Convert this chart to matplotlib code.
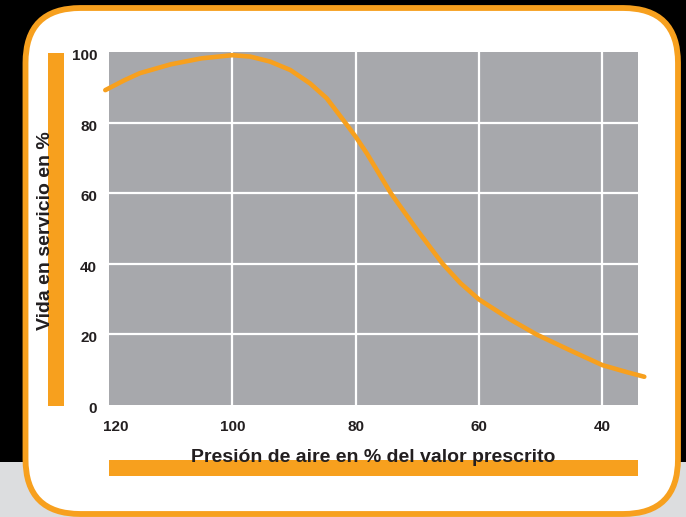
import matplotlib
matplotlib.use("Agg")
import matplotlib.pyplot as plt
import matplotlib.transforms as mtransforms
from matplotlib.patches import FancyBboxPatch, Rectangle

# tyre service life vs. inflation pressure
presion = [120.6, 117.5, 115, 110, 105, 100, 97.1, 93.9, 90.6, 87.4, 84.7, 82, 80, 78.2,
           74.3, 70, 65.9, 63, 60, 55, 50.7, 45, 40, 36, 33.2]
vida = [89.2, 92.0, 94.0, 96.5, 98.2, 99.1, 98.7, 97.3, 94.9, 91.1, 86.9, 80.7, 76.0, 71.3,
        60.0, 49.5, 40.0, 34.5, 29.9, 24.3, 20.0, 15.3, 11.3, 9.3, 8.0]

x_ticks = [120, 100, 80, 60, 40]
y_ticks = [0, 20, 40, 60, 80, 100]
x_label = "Presión de aire en % del valor prescrito"
y_label = "Vida en servicio en %"

ORANGE = "#f7a01e"
PLOT_BG = "#a7a8ac"
TEXT = "#231f20"
W, H = 686, 517

plt.rcParams["font.family"] = ["Liberation Sans", "DejaVu Sans"]
fig = plt.figure(figsize=(W / 100, H / 100), dpi=100, facecolor="black")
pix = mtransforms.IdentityTransform()


def fy(y):
    # image rows (top-down) -> display y (bottom-up)
    return H - y


# light band along the bottom
fig.add_artist(Rectangle((0, 0), W, H - 462, transform=pix, facecolor="#dcdddf",
                         edgecolor="none", zorder=-3))
# white card with orange rounded border
fig.add_artist(FancyBboxPatch((25.5, fy(514)), 678 - 25.5, 514 - 8, transform=pix,
                              boxstyle="round,pad=0,rounding_size=55",
                              facecolor="white", edgecolor=ORANGE, linewidth=4.2, zorder=-2))
# orange bars behind the axis titles
fig.add_artist(Rectangle((48, fy(405.5)), 16, 405.5 - 53, transform=pix,
                         facecolor=ORANGE, edgecolor="none", zorder=-1))
fig.add_artist(Rectangle((109, fy(476)), 638 - 109, 16, transform=pix,
                         facecolor=ORANGE, edgecolor="none", zorder=-1))

ax = fig.add_axes([109 / W, (H - 405) / H, (637.5 - 109) / W, (405 - 52) / H])
ax.set_facecolor(PLOT_BG)
ax.plot(presion, vida, color=ORANGE, linewidth=3.3, solid_capstyle="round",
        solid_joinstyle="round", clip_on=False, zorder=3)

ax.set_xlim(120, 34.3)
ax.set_ylim(0, 100)
ax.set_xticks(x_ticks)
ax.set_yticks(y_ticks)
ax.set_xticklabels([str(v) for v in x_ticks])
ax.set_yticklabels([str(v) for v in y_ticks])
ax.tick_params(length=0, labelsize=11, labelcolor=TEXT, pad=8.5)
ax.tick_params(axis="x", pad=10.5)
for lbl in ax.get_xticklabels() + ax.get_yticklabels():
    lbl.set_fontweight("bold")
# nudge the first x label inward and the y labels down a little
first = ax.get_xticklabels()[0]
first.set_transform(first.get_transform() + mtransforms.ScaledTranslation(7 / 100, 0, fig.dpi_scale_trans))
for lbl in ax.get_yticklabels():
    lbl.set_transform(lbl.get_transform() + mtransforms.ScaledTranslation(0, -2.5 / 100, fig.dpi_scale_trans))

for s in ax.spines.values():
    s.set_visible(False)
for v in [100, 80, 60, 40]:
    ax.axvline(v, color="white", linewidth=1.6, zorder=1)
for v in [20, 40, 60, 80]:
    ax.axhline(v, color="white", linewidth=1.6, zorder=1)

fig.text(373 / W, (H - 457) / H, x_label, ha="center", va="center", fontsize=14,
         fontweight="bold", color=TEXT)
fig.text(46 / W, (H - 230.5) / H, y_label, ha="center", va="center", rotation=90,
         fontsize=14, fontweight="bold", color=TEXT)

fig.savefig("out.png", dpi=100, facecolor=fig.get_facecolor())
